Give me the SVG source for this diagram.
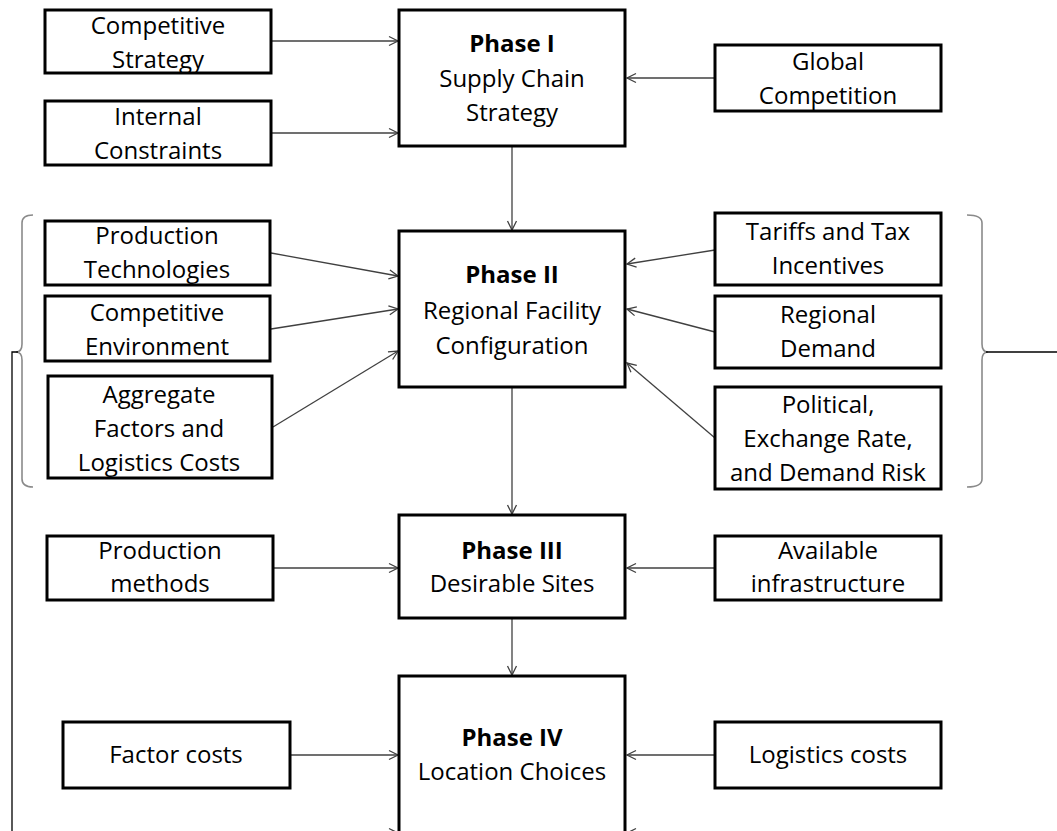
<svg xmlns="http://www.w3.org/2000/svg" width="1057" height="831" viewBox="0 0 1057 831">
  <style>
    .box { fill: #fff; stroke: #000; stroke-width: 3; }
    .lbl { font-family: "Open Sans", "Noto Sans", "Liberation Sans", sans-serif; font-size: 24px; fill: #000; text-anchor: middle; }
    .b { font-weight: bold; }
    .conn { stroke: #404040; stroke-width: 1.3; fill: none; marker-end: url(#arrow); }
    .brace { stroke: #8a8a8a; stroke-width: 1.6; fill: none; }
    .link { stroke: #000; stroke-width: 1.3; fill: none; }
  </style>
  <defs>
    <marker id="arrow" markerUnits="userSpaceOnUse" markerWidth="12" markerHeight="12" refX="10" refY="6" orient="auto">
      <path d="M1,1.5 L10,6 L1,10.5" fill="none" stroke="#404040" stroke-width="1.3"/>
    </marker>
    <linearGradient id="fade" x1="0" y1="0" x2="1" y2="0">
      <stop offset="0" stop-color="#d8d8d8"/>
      <stop offset="1" stop-color="#707070"/>
    </linearGradient>
  </defs>

  <rect width="1057" height="831" fill="#fff"/>

  <!-- connectors -->
  <g id="connectors">
    <line class="conn" x1="272" y1="41" x2="398" y2="41"/>
    <line class="conn" x1="272" y1="133" x2="398" y2="133"/>
    <line class="conn" x1="715" y1="78" x2="627" y2="78"/>
    <line class="conn" x1="512" y1="147" x2="512" y2="230"/>

    <line class="conn" x1="271" y1="253" x2="398" y2="276"/>
    <line class="conn" x1="271" y1="329" x2="398" y2="309"/>
    <line class="conn" x1="273" y1="427" x2="398" y2="351"/>
    <line class="conn" x1="715" y1="250" x2="627" y2="264"/>
    <line class="conn" x1="715" y1="332" x2="627" y2="309"/>
    <line class="conn" x1="715" y1="438" x2="627" y2="363"/>
    <line class="conn" x1="512" y1="388" x2="512" y2="514"/>

    <line class="conn" x1="273" y1="568" x2="398" y2="568"/>
    <line class="conn" x1="715" y1="568" x2="627" y2="568"/>
    <line class="conn" x1="512" y1="619" x2="512" y2="675"/>

    <line class="conn" x1="290" y1="755" x2="398" y2="755"/>
    <line class="conn" x1="715" y1="755" x2="627" y2="755"/>
    <line class="conn" x1="300" y1="833" x2="398" y2="833"/>
    <line class="conn" x1="715" y1="833" x2="627" y2="833"/>

    <!-- braces grouping the Phase II factors -->
    <path class="brace" d="M33,215 Q22,215 22,223 L22,344 Q22,352 16,352 Q22,352 22,360 L22,479 Q22,487 33,487"/>
    <path class="brace" d="M967,215 Q982,215 982,223 L982,344 Q982,352 988,352 Q982,352 982,360 L982,479 Q982,487 967,487"/>
    <polyline class="link" points="18,352 12,352 12,831"/>
    <line class="link" x1="986" y1="352" x2="1057" y2="352"/>
    <line x1="678" y1="829.5" x2="1057" y2="829.5" stroke="url(#fade)" stroke-width="2"/>
  </g>

  <!-- Phase I inputs -->
  <g id="competitive-strategy">
    <rect class="box" x="45" y="10" width="226" height="63"/>
    <text class="lbl" x="158" y="34">Competitive</text>
    <text class="lbl" x="158" y="68">Strategy</text>
  </g>
  <g id="internal-constraints">
    <rect class="box" x="45" y="101" width="226" height="64"/>
    <text class="lbl" x="158" y="125">Internal</text>
    <text class="lbl" x="158" y="159">Constraints</text>
  </g>
  <g id="global-competition">
    <rect class="box" x="715" y="45" width="226" height="66"/>
    <text class="lbl" x="828" y="70">Global</text>
    <text class="lbl" x="828" y="104">Competition</text>
  </g>
  <g id="phase-1">
    <rect class="box" x="399" y="10" width="226" height="136"/>
    <text class="lbl b" x="512" y="52">Phase I</text>
    <text class="lbl" x="512" y="87">Supply Chain</text>
    <text class="lbl" x="512" y="121">Strategy</text>
  </g>

  <!-- Phase II inputs -->
  <g id="production-technologies">
    <rect class="box" x="45" y="221" width="225" height="64"/>
    <text class="lbl" x="157" y="244">Production</text>
    <text class="lbl" x="157" y="278">Technologies</text>
  </g>
  <g id="competitive-environment">
    <rect class="box" x="45" y="296" width="225" height="65"/>
    <text class="lbl" x="157" y="321">Competitive</text>
    <text class="lbl" x="157" y="355">Environment</text>
  </g>
  <g id="aggregate-factors">
    <rect class="box" x="48" y="376" width="224" height="102"/>
    <text class="lbl" x="159" y="403">Aggregate</text>
    <text class="lbl" x="159" y="437">Factors and</text>
    <text class="lbl" x="159" y="471">Logistics Costs</text>
  </g>
  <g id="tariffs">
    <rect class="box" x="715" y="213" width="226" height="72"/>
    <text class="lbl" x="828" y="240">Tariffs and Tax</text>
    <text class="lbl" x="828" y="274">Incentives</text>
  </g>
  <g id="regional-demand">
    <rect class="box" x="715" y="296" width="226" height="72"/>
    <text class="lbl" x="828" y="323">Regional</text>
    <text class="lbl" x="828" y="357">Demand</text>
  </g>
  <g id="risk">
    <rect class="box" x="715" y="387" width="226" height="102"/>
    <text class="lbl" x="828" y="413">Political,</text>
    <text class="lbl" x="828" y="447">Exchange Rate,</text>
    <text class="lbl" x="828" y="481">and Demand Risk</text>
  </g>
  <g id="phase-2">
    <rect class="box" x="399" y="231" width="226" height="156"/>
    <text class="lbl b" x="512" y="283">Phase II</text>
    <text class="lbl" x="512" y="319">Regional Facility</text>
    <text class="lbl" x="512" y="354">Configuration</text>
  </g>

  <!-- Phase III inputs -->
  <g id="production-methods">
    <rect class="box" x="47" y="536" width="226" height="64"/>
    <text class="lbl" x="160" y="559">Production</text>
    <text class="lbl" x="160" y="592">methods</text>
  </g>
  <g id="available-infrastructure">
    <rect class="box" x="715" y="536" width="226" height="64"/>
    <text class="lbl" x="828" y="559">Available</text>
    <text class="lbl" x="828" y="592">infrastructure</text>
  </g>
  <g id="phase-3">
    <rect class="box" x="399" y="515" width="226" height="103"/>
    <text class="lbl b" x="512" y="559">Phase III</text>
    <text class="lbl" x="512" y="592">Desirable Sites</text>
  </g>

  <!-- Phase IV inputs -->
  <g id="factor-costs">
    <rect class="box" x="63" y="722" width="227" height="66"/>
    <text class="lbl" x="176" y="763">Factor costs</text>
  </g>
  <g id="logistics-costs">
    <rect class="box" x="715" y="722" width="226" height="66"/>
    <text class="lbl" x="828" y="763">Logistics costs</text>
  </g>
  <g id="phase-4">
    <rect class="box" x="399" y="676" width="226" height="170"/>
    <text class="lbl b" x="512" y="746">Phase IV</text>
    <text class="lbl" x="512" y="780">Location Choices</text>
  </g>
</svg>
